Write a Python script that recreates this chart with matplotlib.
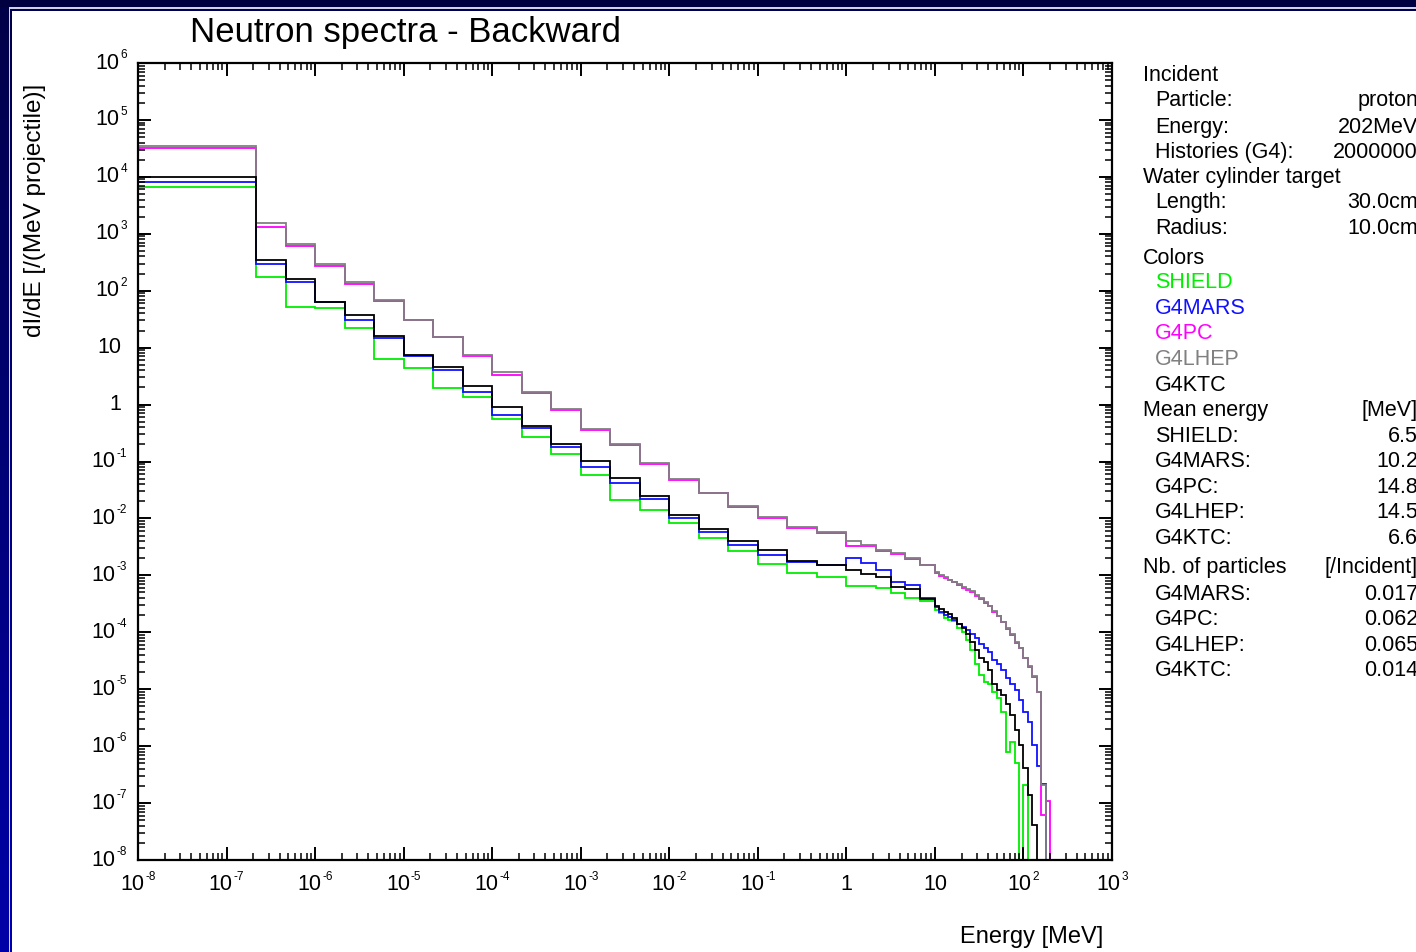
import matplotlib
matplotlib.use("Agg")
import matplotlib.pyplot as plt
import numpy as np
from matplotlib.ticker import LogLocator, NullFormatter
from matplotlib.patches import Rectangle
from matplotlib.transforms import IdentityTransform

plt.rcParams["font.family"] = ["Liberation Sans", "DejaVu Sans"]

# bin edges of the histograms [MeV]
energy_edges = [
    1e-8, 2.15e-7, 4.64e-7,
    1e-6, 2.15e-6, 4.64e-6,
    1e-5, 2.15e-5, 4.64e-5,
    1e-4, 2.15e-4, 4.64e-4,
    1e-3, 2.15e-3, 4.64e-3,
    1e-2, 2.15e-2, 4.64e-2,
    0.1, 0.215, 0.464,
    1.0, 1.47, 2.15, 3.16, 4.64, 6.81,
    10.0, 11.2, 12.6, 14.1, 15.8, 17.8, 20.0, 22.4, 25.1, 28.2,
    31.6, 35.5, 39.8, 44.7, 50.1, 56.2, 63.1, 70.8, 79.4, 89.1,
    100.0, 112.0, 126.0, 141.0, 158.0, 178.0, 200.0, 224.0,
]

# dI/dE per bin [/(MeV projectile)]
shield = [
    6.7e3, 176, 52, 49, 22.4, 6.3, 4.34, 1.98, 1.34, 0.55, 0.273, 0.135,
    0.058, 0.0211, 0.0141, 0.0082, 0.00448, 0.00271, 0.00156, 0.00109,
    0.000925, 0.00065, 0.00065, 0.000593, 0.000484, 0.000395, 0.00036,
    2.47e-4, 2.18e-4, 1.78e-4, 1.64e-4, 1.58e-4, 1.19e-4, 1.01e-4, 7.33e-5,
    4.89e-5, 2.77e-5, 1.78e-5, 1.34e-5, 1.24e-5, 8.93e-6, 7.01e-6, 3.98e-6,
    7.89e-7, 1.18e-6, 5.06e-7, 0, 2.08e-7, 0, 0, 0, 0, 0, 0,
]
g4mars = [
    8.2e3, 291, 141, 63, 30.6, 14.6, 7.1, 4.05, 1.64, 0.656, 0.383, 0.182,
    0.081, 0.0425, 0.0217, 0.0100, 0.00585, 0.00341, 0.00228, 0.00170,
    0.00150, 0.0020, 0.00163, 0.00124, 0.000774, 0.000678, 0.000400,
    2.78e-4, 2.27e-4, 2.01e-4, 1.86e-4, 1.64e-4, 1.40e-4, 1.24e-4, 1.10e-4,
    9.33e-5, 7.94e-5, 6.24e-5, 5.30e-5, 4.51e-5, 3.26e-5, 2.77e-5, 2.18e-5,
    1.57e-5, 1.24e-5, 9.70e-6, 6.47e-6, 3.98e-6, 2.65e-6, 1.05e-6, 4.48e-7,
    2.16e-7, 0, 0,
]
g4pc = [
    3.2e4, 1.30e3, 611, 272, 131, 66, 30, 15.2, 7.0, 3.3, 1.62, 0.80,
    0.36, 0.195, 0.090, 0.048, 0.0275, 0.0161, 0.0100, 0.00672,
    0.00548, 0.00328, 0.0033, 0.0027, 0.0024, 0.00195, 0.0015,
    1.12e-3, 9.7e-4, 9.0e-4, 8.2e-4, 7.6e-4, 6.8e-4, 6.1e-4, 5.6e-4,
    5.0e-4, 4.4e-4, 3.9e-4, 3.3e-4, 2.85e-4, 2.30e-4, 1.90e-4, 1.50e-4,
    1.16e-4, 9.1e-5, 6.6e-5, 5.2e-5, 3.5e-5, 2.5e-5, 1.65e-5, 8.9e-6,
    6.18e-8, 1.09e-7, 0,
]
g4lhep = [
    3.5e4, 1.53e3, 662, 295, 144, 68.7, 30.6, 15.6, 7.4, 3.78, 1.68, 0.826,
    0.372, 0.203, 0.095, 0.049, 0.0283, 0.0165, 0.0107, 0.00716,
    0.0057, 0.00406, 0.00341, 0.00279, 0.00244, 0.0020, 0.00152,
    1.15e-3, 9.95e-4, 9.18e-4, 8.30e-4, 7.66e-4, 6.92e-4, 6.25e-4, 5.65e-4,
    5.21e-4, 4.52e-4, 3.93e-4, 3.40e-4, 2.90e-4, 2.37e-4, 1.93e-4, 1.52e-4,
    1.19e-4, 9.33e-5, 6.76e-5, 5.30e-5, 3.54e-5, 2.56e-5, 1.71e-5, 8.93e-6,
    2.08e-7, 0, 0,
]
g4ktc = [
    1.0e4, 347, 161, 64, 37.4, 16.0, 7.4, 4.6, 2.12, 0.91, 0.42, 0.203,
    0.102, 0.052, 0.025, 0.0115, 0.00653, 0.00406, 0.00279, 0.00181,
    0.00152, 0.00124, 0.00104, 0.000925, 0.000632, 0.000569, 0.00038,
    2.90e-4, 2.56e-4, 2.27e-4, 2.09e-4, 1.78e-4, 1.40e-4, 1.19e-4, 9.33e-5,
    6.76e-5, 4.89e-5, 3.54e-5, 3.01e-5, 2.18e-5, 1.24e-5, 9.70e-6, 7.92e-6,
    5.51e-6, 3.53e-6, 1.92e-6, 1.05e-6, 4.13e-7, 1.39e-7, 4.12e-8,
    0, 0, 0, 0,
]

model_names = ["SHIELD", "G4MARS", "G4PC", "G4LHEP", "G4KTC"]
model_colors = ["#00ee00", "#1010ff", "#ff00ff", "#808080", "#000000"]

# tick decades
x_decades = list(range(-8, 4))
y_decades = list(range(-8, 7))

# side panel: (left text, right text, is heading, colour)
panel_rows = [
    ("Incident", "", True, "black"),
    ("Particle:", "proton", False, "black"),
    ("Energy:", "202MeV", False, "black"),
    ("Histories (G4):", "2000000", False, "black"),
    ("Water cylinder target", "", True, "black"),
    ("Length:", "30.0cm", False, "black"),
    ("Radius:", "10.0cm", False, "black"),
    ("Colors", "", True, "black"),
    ("SHIELD", "", False, model_colors[0]),
    ("G4MARS", "", False, model_colors[1]),
    ("G4PC", "", False, model_colors[2]),
    ("G4LHEP", "", False, model_colors[3]),
    ("G4KTC", "", False, model_colors[4]),
    ("Mean energy", "[MeV]", True, "black"),
    ("SHIELD:", "6.5", False, "black"),
    ("G4MARS:", "10.2", False, "black"),
    ("G4PC:", "14.8", False, "black"),
    ("G4LHEP:", "14.5", False, "black"),
    ("G4KTC:", "6.6", False, "black"),
    ("Nb. of particles", "[/Incident]", True, "black"),
    ("G4MARS:", "0.017", False, "black"),
    ("G4PC:", "0.062", False, "black"),
    ("G4LHEP:", "0.065", False, "black"),
    ("G4KTC:", "0.014", False, "black"),
]
# text baselines, pixels from the top
panel_y = [81, 106, 133, 158, 183, 208, 234, 264, 288, 314, 339, 365, 391,
           416, 442, 467, 493, 518, 544, 573, 600, 625, 651, 676]

W, H = 1416, 952
BASE_FS = 15.5
EXP_FS = 8.5


def decade_label(fig, renderer, e, x, y, align):
    """Draw '10' with a small raised exponent (or '1' / '10') at pixel x, y."""
    ident = IdentityTransform()
    if e in (0, 1):
        s = "1" if e == 0 else "10"
        xs = x - 6 if align == "right" else x
        fig.text(xs, y, s, transform=ident, fontsize=BASE_FS,
                 ha=align, va="center")
        return
    base = fig.text(0, y, "10", transform=ident, fontsize=BASE_FS,
                    ha="left", va="center")
    expo = fig.text(0, y + 8, str(e), transform=ident, fontsize=EXP_FS,
                    ha="left", va="center")
    wb = base.get_window_extent(renderer).width
    we = expo.get_window_extent(renderer).width
    total = wb + 1 + we
    x0 = x - total if align == "right" else x - total / 2
    base.set_x(x0)
    expo.set_x(x0 + wb + 1)


def main():
    fig = plt.figure(figsize=(W / 100, H / 100), dpi=100)
    fig.patch.set_facecolor("white")

    # dark frame at the top and left
    bg = fig.add_axes([0, 0, 1, 1], zorder=-5)
    bg.set_xlim(0, W)
    bg.set_ylim(H, 0)
    bg.axis("off")
    grad = np.linspace(0, 1, 200).reshape(-1, 1)
    cmap = matplotlib.colors.LinearSegmentedColormap.from_list(
        "edge", ["#000048", "#0000a8"])
    bg.imshow(grad, cmap=cmap, extent=[0, 8.5, H, 0], aspect="auto")
    bg.add_patch(Rectangle((0, 0), W, 6.5, color="#000040", lw=0))
    bg.add_patch(Rectangle((8.5, 6.5), W, 2, color="#d0d0e8", lw=0))
    bg.add_patch(Rectangle((8.5, 8.5), 1.5, H, color="#d0d0e8", lw=0))
    bg.add_patch(Rectangle((10, 8.5), W, 2, color="#000050", lw=0))
    bg.imshow(grad, cmap=cmap, extent=[10, 11.8, H, 8.5], aspect="auto")

    ax = fig.add_axes([138 / W, 1 - 860 / H, (1112 - 138) / W, (860 - 63) / H])
    series = [shield, g4mars, g4pc, g4lhep, g4ktc]
    for vals, col in zip(series, model_colors):
        ax.stairs(vals, energy_edges, baseline=None, color=col, lw=1.3)

    ax.set_xscale("log")
    ax.set_yscale("log")
    ax.set_xlim(1e-8, 1e3)
    ax.set_ylim(1e-8, 1e6)
    for axis in (ax.xaxis, ax.yaxis):
        axis.set_major_locator(LogLocator(base=10, numticks=30))
        axis.set_minor_locator(LogLocator(base=10, subs=range(2, 10),
                                          numticks=300))
        axis.set_major_formatter(NullFormatter())
        axis.set_minor_formatter(NullFormatter())
    ax.tick_params(which="major", direction="in", length=9.5, width=1.4,
                   top=True, right=True)
    ax.tick_params(which="minor", direction="in", length=5, width=1.1,
                   top=True, right=True)
    for s in ax.spines.values():
        s.set_linewidth(1.6)

    renderer = fig.canvas.get_renderer()
    x_left = ax.transData.transform((1e-8, 1))[0]
    y_bottom = ax.transData.transform((1, 1e-8))[1]
    for e in y_decades:
        y = ax.transData.transform((1, 10.0 ** e))[1]
        decade_label(fig, renderer, e, x_left - 11, y, "right")
    for e in x_decades:
        x = ax.transData.transform((10.0 ** e, 1))[0]
        decade_label(fig, renderer, e, x, y_bottom - 25, "center")

    fig.text(190 / W, 1 - 42 / H, "Neutron spectra - Backward",
             fontsize=25, ha="left", va="baseline")
    fig.text(35 / W, 1 - 210 / H, "dI/dE [/(MeV projectile)]",
             fontsize=17.5, rotation=90, ha="center", va="center")
    fig.text(1103 / W, 1 - 943 / H, "Energy [MeV]",
             fontsize=17, ha="right", va="baseline")

    for (left, right, head, col), y in zip(panel_rows, panel_y):
        x0 = 1143 if head else 1155
        fig.text(x0 / W, 1 - y / H, left, fontsize=15.5, color=col,
                 ha="left", va="baseline")
        if right:
            fig.text(1418 / W, 1 - y / H, right, fontsize=15.5,
                     ha="right", va="baseline")

    fig.savefig("out.png", dpi=100)


if __name__ == "__main__":
    main()
